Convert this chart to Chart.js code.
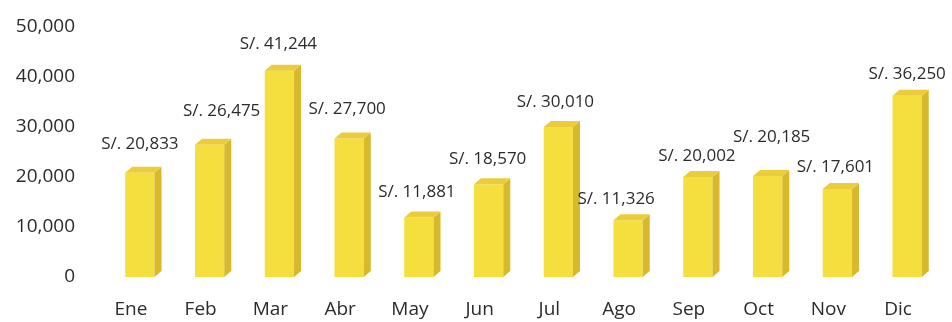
<!DOCTYPE html>
<html>
<head>
<meta charset="utf-8">
<script src="https://cdn.jsdelivr.net/npm/chart.js@4"></script>
<style>
  html, body { margin: 0; padding: 0; background: #fff; }
  #wrap { width: 952px; height: 322px; }
</style>
</head>
<body>
<div id="wrap"><canvas id="ventasChart" width="952" height="322"></canvas></div>
<script>
// monthly sales (soles)
const months = ['Ene', 'Feb', 'Mar', 'Abr', 'May', 'Jun', 'Jul', 'Ago', 'Sep', 'Oct', 'Nov', 'Dic'];
const sales = [20833, 26475, 41244, 27700, 11881, 18570, 30010, 11326, 20002, 20185, 17601, 36250];
const yTicks = [0, 10000, 20000, 30000, 40000, 50000];

// small nudges so the value labels don't collide
const labelDx = [0, 12, -1, -2, -2, -1, -3, -12, -1, 4, -2, 0];
const labelDy = [-29, -33, -27, -29, -25, -25, -25, -21, -21, -39, -22, -22];

const FONT = '"Open Sans", "Liberation Sans", sans-serif';
const TEXT = '#2b2b2b';

function fmt(v) {
    return v.toLocaleString('en-US');
}

// fake 3D: top and side faces on each bar
const bar3d = {
    id: 'bar3d',
    afterDatasetsDraw(chart) {
        const ctx = chart.ctx;
        const meta = chart.getDatasetMeta(0);
        const dx = 7, dy = -6;
        ctx.save();
        meta.data.forEach(bar => {
            const left = bar.x - bar.width / 2;
            const right = bar.x + bar.width / 2;
            const top = bar.y;
            const base = bar.base;
            // side face
            ctx.fillStyle = '#d9b92c';
            ctx.beginPath();
            ctx.moveTo(right, top);
            ctx.lineTo(right + dx, top + dy);
            ctx.lineTo(right + dx, base + dy);
            ctx.lineTo(right, base);
            ctx.closePath();
            ctx.fill();
            // top face
            ctx.fillStyle = '#ebcd3c';
            ctx.beginPath();
            ctx.moveTo(left, top);
            ctx.lineTo(left + dx, top + dy);
            ctx.lineTo(right + dx, top + dy);
            ctx.lineTo(right, top);
            ctx.closePath();
            ctx.fill();
        });
        ctx.restore();
    }
};

// value labels above the bars
const valueLabels = {
    id: 'valueLabels',
    afterDatasetsDraw(chart) {
        const ctx = chart.ctx;
        const meta = chart.getDatasetMeta(0);
        ctx.save();
        ctx.font = '17px ' + FONT;
        ctx.fillStyle = TEXT;
        ctx.textAlign = 'center';
        ctx.textBaseline = 'middle';
        meta.data.forEach((bar, i) => {
            ctx.fillText('S/. ' + fmt(sales[i]), bar.x + labelDx[i], bar.y + labelDy[i]);
        });
        ctx.restore();
    }
};

const ctx = document.getElementById('ventasChart').getContext('2d');
new Chart(ctx, {
    type: 'bar',
    data: {
        labels: months,
        datasets: [{
            label: 'Ventas',
            data: sales,
            backgroundColor: '#f5df3e',
            borderWidth: 0,
            barPercentage: 0.42,
            categoryPercentage: 1
        }]
    },
    options: {
        responsive: false,
        animation: false,
        layout: { padding: { top: 27, right: 10, left: 0, bottom: 0 } },
        scales: {
            x: {
                grid: { display: false, drawTicks: false },
                border: { display: false },
                ticks: {
                    color: TEXT,
                    font: { family: FONT, size: 19 },
                    padding: 21,
                    labelOffset: -9,
                    maxRotation: 0
                },
                afterFit: s => { s.height = 45; }
            },
            y: {
                min: 0,
                max: 50000,
                grid: { display: false, drawTicks: false },
                border: { display: false },
                afterBuildTicks: s => { s.ticks = yTicks.map(v => ({ value: v })); },
                ticks: {
                    color: TEXT,
                    font: { family: FONT, size: 19 },
                    padding: 30,
                    callback: v => fmt(v)
                },
                afterFit: s => {
                    s.width = 105;
                    s.paddingTop = 0;
                    s.paddingBottom = 0;
                }
            }
        },
        plugins: {
            legend: { display: false },
            tooltip: { enabled: false }
        }
    },
    plugins: [bar3d, valueLabels]
});
</script>
</body>
</html>
